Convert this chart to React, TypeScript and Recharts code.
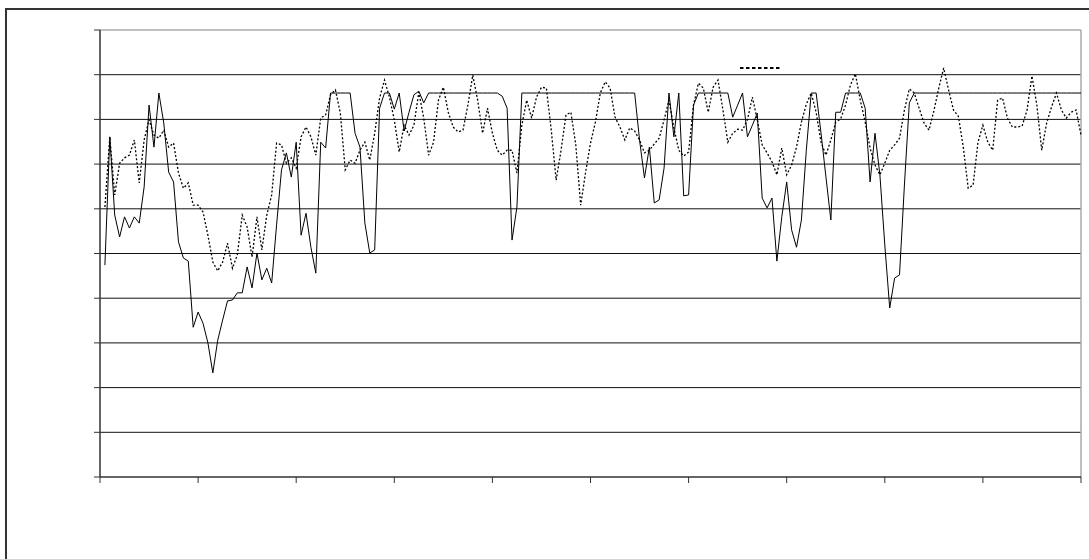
import {
  LineChart,
  Line,
  XAxis,
  YAxis,
  ReferenceLine,
  Legend,
} from "recharts";

// solid series (0-100 scale)
const seriesA = [
  47.4, 76.1, 58.6, 53.7, 58.2, 55.7, 58.2, 56.8, 64.9, 83.2,
  73.8, 85.9, 79.2, 68.2, 66.0, 52.6, 49.0, 48.3, 33.5, 36.9,
  34.4, 30.0, 23.3, 30.6, 35.1, 39.4, 39.6, 41.2, 41.2, 47.0,
  42.3, 50.1, 44.1, 46.7, 43.4, 56.4, 68.7, 72.5, 67.1, 74.9,
  54.1, 59.0, 51.4, 45.6, 74.9, 73.6, 85.9, 85.9, 85.9, 85.9,
  85.9, 76.9, 73.8, 56.8, 50.1, 50.8, 82.5, 85.9, 85.9, 82.3,
  85.9, 77.4, 81.6, 85.5, 86.3, 83.7, 85.9, 85.9, 85.9, 85.9,
  85.9, 85.9, 85.9, 85.9, 85.9, 85.9, 85.9, 85.9, 85.9, 85.9,
  85.9, 85.2, 82.5, 53.0, 60.4, 85.9, 85.9, 85.9, 85.9, 85.9,
  85.9, 85.9, 85.9, 85.9, 85.9, 85.9, 85.9, 85.9, 85.9, 85.9,
  85.9, 85.9, 85.9, 85.9, 85.9, 85.9, 85.9, 85.9, 85.9, 75.4,
  66.9, 73.8, 61.3, 62.0, 69.1, 85.9, 76.1, 85.9, 62.9, 63.1,
  83.2, 85.9, 85.9, 85.9, 85.9, 85.9, 85.9, 85.9, 80.5, 83.2,
  85.9, 76.1, 78.7, 81.4, 62.4, 60.2, 62.4, 48.3, 58.2, 66.0,
  55.3, 51.4, 57.5, 73.1, 85.9, 85.9, 76.9, 67.1, 57.5, 81.6,
  81.6, 85.9, 85.9, 85.9, 85.9, 82.5, 66.0, 76.9, 67.6, 51.9,
  37.8, 44.5, 45.2, 65.3, 83.7, 85.9, 85.9, 85.9, 85.9, 85.9,
  85.9, 85.9, 85.9, 85.9, 85.9, 85.9, 85.9, 85.9, 85.9, 85.9,
  85.9, 85.9, 85.9, 85.9, 85.9, 85.9, 85.9, 85.9, 85.9, 85.9,
  85.9, 85.9, 85.9, 85.9, 85.9, 85.9, 85.9, 85.9, 85.9, 85.9,
];

// dotted series
const seriesB = [
  60.4, 76.1, 63.1, 70.2, 71.4, 72.0, 75.4, 65.8, 75.4, 79.9,
  76.5, 75.8, 77.6, 73.8, 74.7, 68.0, 64.6, 65.8, 60.8, 60.8,
  59.3, 54.1, 48.1, 46.1, 48.1, 52.3, 46.7, 49.7, 58.6, 55.9,
  49.2, 58.2, 50.8, 58.6, 63.1, 74.7, 74.3, 70.2, 71.4, 69.1,
  76.1, 78.3, 76.1, 72.0, 80.3, 81.0, 85.5, 86.6, 81.4, 68.7,
  70.9, 70.2, 73.1, 74.9, 70.9, 76.9, 84.8, 88.8, 85.0, 79.9,
  72.7, 78.7, 76.5, 78.7, 86.1, 80.3, 72.0, 74.9, 84.3, 87.2,
  81.6, 78.3, 77.2, 77.6, 83.2, 89.9, 84.3, 76.9, 82.5, 76.9,
  73.1, 72.0, 73.1, 73.1, 68.0, 78.7, 84.3, 80.3, 85.0, 87.2,
  87.0, 77.6, 66.4, 73.1, 81.0, 81.6, 74.3, 60.8, 68.2, 74.7,
  79.4, 85.9, 88.4, 87.0, 80.5, 78.3, 75.4, 78.1, 77.4, 75.4,
  72.5, 73.1, 74.5, 75.8, 79.9, 84.3, 78.1, 73.1, 71.8, 72.7,
  83.2, 88.1, 87.0, 81.6, 87.2, 88.8, 82.1, 74.9, 76.9, 77.8,
  77.6, 79.9, 85.0, 79.9, 74.3, 72.5, 70.5, 67.6, 73.6, 67.6,
  69.8, 73.8, 79.4, 83.4, 85.9, 81.6, 74.9, 72.0, 75.4, 79.4,
  80.1, 83.2, 87.7, 90.2, 84.3, 79.4, 73.6, 69.8, 67.6, 70.2,
  73.1, 74.3, 75.8, 82.1, 86.8, 85.9, 82.5, 79.2, 77.6, 81.9,
  87.0, 91.5, 86.6, 82.1, 80.7, 73.8, 64.6, 65.3, 74.9, 78.7,
  74.9, 73.1, 84.3, 84.8, 80.3, 78.3, 78.3, 78.5, 82.1, 89.7,
  83.2, 73.1, 79.2, 82.8, 85.9, 82.1, 80.3, 81.6, 82.1, 76.5,
];

const xTicks = [-1, 19, 39, 59, 79, 99, 119, 139, 159, 179, 199];
const yTicks = [0, 10, 20, 30, 40, 50, 60, 70, 80, 90, 100];

const chartData = seriesA.map((a, i) => ({ idx: i, a, b: seriesB[i] }));
const gridValues = yTicks.filter((v) => v > 0 && v < 100);

// axes carry tick marks but no labels
const NoLabel = () => <g />;

function LegendSample() {
  return (
    <svg width={42} height={4} style={{ display: "block" }}>
      <line
        x1={0}
        y1={2}
        x2={42}
        y2={2}
        stroke="#000"
        strokeWidth={2}
        strokeDasharray="3.5 2.5"
      />
    </svg>
  );
}

export default function App() {
  return (
    <div
      style={{
        position: "absolute",
        left: 0,
        top: 0,
        width: 1089,
        height: 559,
        overflow: "hidden",
        background: "#fff",
      }}
    >
      <div
        style={{
          position: "absolute",
          left: 5,
          top: 8,
          width: 1200,
          height: 700,
          border: "2px solid #333",
        }}
      />
      <LineChart
        width={1089}
        height={559}
        data={chartData}
        margin={{ top: 30, right: 8, left: 94, bottom: 76 }}
        style={{ position: "absolute", left: 0, top: 0 }}
      >
        <XAxis
          dataKey="idx"
          type="number"
          domain={[-1, 199]}
          ticks={xTicks}
          interval={0}
          tick={NoLabel}
          tickLine={{ stroke: "#333", strokeWidth: 1 }}
          tickSize={6}
          height={6}
          stroke="#333"
          strokeWidth={1.5}
        />
        <YAxis
          type="number"
          domain={[0, 100]}
          ticks={yTicks}
          interval={0}
          tick={NoLabel}
          tickLine={{ stroke: "#333", strokeWidth: 1 }}
          tickSize={6}
          width={6}
          stroke="#333"
          strokeWidth={1.5}
        />
        {gridValues.map((v) => (
          <ReferenceLine key={v} y={v} stroke="#111" strokeWidth={1} />
        ))}
        <ReferenceLine y={100} stroke="#aaa" strokeWidth={1.5} />
        <ReferenceLine x={199} stroke="#aaa" strokeWidth={1.5} />
        <Legend
          layout="horizontal"
          verticalAlign="middle"
          align="center"
          content={() => <LegendSample />}
          wrapperStyle={{ left: 740, top: 66, width: 42, height: 4 }}
        />
        <Line
          dataKey="b"
          type="linear"
          stroke="#000"
          strokeWidth={1.3}
          strokeDasharray="2 2"
          dot={false}
          isAnimationActive={false}
        />
        <Line
          dataKey="a"
          type="linear"
          stroke="#000"
          strokeWidth={1}
          dot={false}
          isAnimationActive={false}
        />
      </LineChart>
    </div>
  );
}
